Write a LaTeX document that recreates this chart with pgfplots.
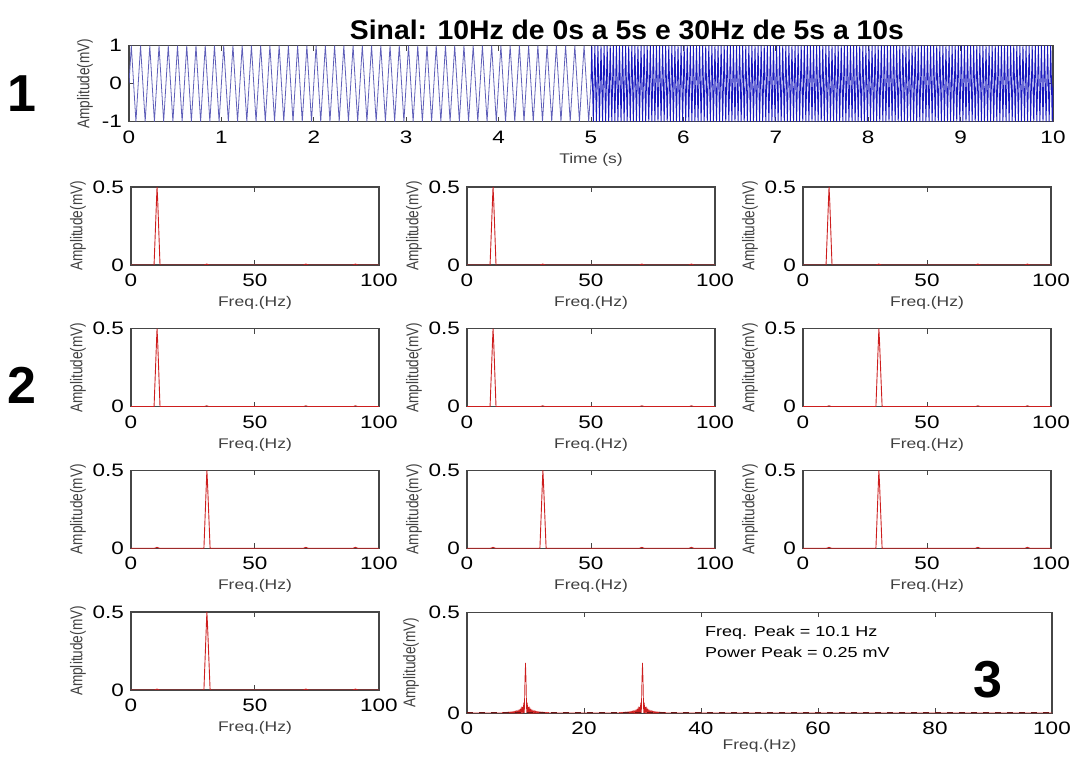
\documentclass[border=0pt]{standalone}
\usepackage{fontspec}
\setmainfont{Liberation Sans}[FakeStretch=1.25]
\newfontfamily\titlefont{Liberation Sans}[FakeStretch=1.05]
\newfontfamily\ylabfont{Liberation Sans}[FakeStretch=0.8]
\newfontfamily\bigfont{Liberation Sans}
\usepackage{pgfplots}
\usepackage{pgfplotstable}
\pgfplotsset{compat=1.18}
\definecolor{sigblue}{RGB}{25,25,190}
\definecolor{sigbluelight}{RGB}{95,95,185}
\definecolor{specred}{RGB}{205,30,30}
\definecolor{darkred}{RGB}{110,20,20}
\definecolor{axgray}{RGB}{70,70,70}

\pgfplotstableread{
f a
0 0
9.3 0
10.3 0.42
10.5 0.5
10.8 0.40
11.7 0
29.5 0
30.5 0.006
31.5 0
69.5 0
70.5 0.006
71.5 0
89.5 0
90.5 0.006
91.5 0
100 0
}\tenhz

\pgfplotstableread{
f a
0 0
9.5 0
10.5 0.006
11.5 0
29.4 0
30.4 0.42
30.6 0.5
30.9 0.40
31.9 0
69.5 0
70.5 0.006
71.5 0
89.5 0
90.5 0.006
91.5 0
100 0
}\thirtyhz

\pgfplotsset{
 mat/.style={scale only axis, anchor=south west,
   axis line style={axgray,line width=0.6pt},
   tick align=inside, major tick length=2.5pt,
   tick style={axgray,line width=0.5pt},
   tick label style={font=\fontsize{9}{10}\selectfont, black},
   xticklabel style={yshift=-1pt},
   /pgf/number format/assume math mode=true,
   xtick pos=both, ytick pos=both,
   xlabel style={font=\fontsize{7}{8}\selectfont, black!75, anchor=center},
   ylabel style={font=\ylabfont\fontsize{8.5}{9}\selectfont, black!75, anchor=center}},
 spec/.style={mat, width=124pt, height=39pt, xmin=0, xmax=100, ymin=0, ymax=0.5,
   xtick={0,50,100}, ytick={0,0.5}, xlabel={Freq.(Hz)}, ylabel={Amplitude(mV)},
   xlabel style={at={(axis description cs:0.5,-0.487)}},
   ylabel style={at={(axis description cs:-0.214,0.5)}}},
 pk/.style={specred, line width=0.45pt},
}

\begin{document}
\begin{tikzpicture}
\path[use as bounding box] (0,0) rectangle (538.5pt,380pt);

% Top signal
\begin{axis}[mat, at={(64.5pt,319.15pt)}, width=462pt, height=38pt,
  xmin=0, xmax=10, ymin=-1, ymax=1, xtick={0,1,...,10}, ytick={-1,0,1},
  xlabel={Time (s)}, ylabel={Amplitude(mV)},
  xlabel style={at={(axis description cs:0.5,-0.5)}},
  ylabel style={at={(axis description cs:-0.0476,0.5)}}]
\addplot[sigbluelight, line width=0.4pt] coordinates {
(0,0)
(0.025,1)(0.075,-1)(0.125,1)(0.175,-1)(0.225,1)(0.275,-1)(0.325,1)(0.375,-1)(0.425,1)(0.475,-1)(0.525,1)(0.575,-1)(0.625,1)(0.675,-1)(0.725,1)(0.775,-1)(0.825,1)(0.875,-1)(0.925,1)(0.975,-1)
(1.025,1)(1.075,-1)(1.125,1)(1.175,-1)(1.225,1)(1.275,-1)(1.325,1)(1.375,-1)(1.425,1)(1.475,-1)(1.525,1)(1.575,-1)(1.625,1)(1.675,-1)(1.725,1)(1.775,-1)(1.825,1)(1.875,-1)(1.925,1)(1.975,-1)
(2.025,1)(2.075,-1)(2.125,1)(2.175,-1)(2.225,1)(2.275,-1)(2.325,1)(2.375,-1)(2.425,1)(2.475,-1)(2.525,1)(2.575,-1)(2.625,1)(2.675,-1)(2.725,1)(2.775,-1)(2.825,1)(2.875,-1)(2.925,1)(2.975,-1)
(3.025,1)(3.075,-1)(3.125,1)(3.175,-1)(3.225,1)(3.275,-1)(3.325,1)(3.375,-1)(3.425,1)(3.475,-1)(3.525,1)(3.575,-1)(3.625,1)(3.675,-1)(3.725,1)(3.775,-1)(3.825,1)(3.875,-1)(3.925,1)(3.975,-1)
(4.025,1)(4.075,-1)(4.125,1)(4.175,-1)(4.225,1)(4.275,-1)(4.325,1)(4.375,-1)(4.425,1)(4.475,-1)(4.525,1)(4.575,-1)(4.625,1)(4.675,-1)(4.725,1)(4.775,-1)(4.825,1)(4.875,-1)(4.925,1)(4.975,-1)
(5,0)
};
\addplot[sigblue, line width=0.45pt] coordinates {
(5,0)
(5.0083,1)(5.025,-1)(5.0417,1)(5.0583,-1)(5.075,1)(5.0917,-1)
(5.1083,1)(5.125,-1)(5.1417,1)(5.1583,-1)(5.175,1)(5.1917,-1)
(5.2083,1)(5.225,-1)(5.2417,1)(5.2583,-1)(5.275,1)(5.2917,-1)
(5.3083,1)(5.325,-1)(5.3417,1)(5.3583,-1)(5.375,1)(5.3917,-1)
(5.4083,1)(5.425,-1)(5.4417,1)(5.4583,-1)(5.475,1)(5.4917,-1)
(5.5083,1)(5.525,-1)(5.5417,1)(5.5583,-1)(5.575,1)(5.5917,-1)
(5.6083,1)(5.625,-1)(5.6417,1)(5.6583,-1)(5.675,1)(5.6917,-1)
(5.7083,1)(5.725,-1)(5.7417,1)(5.7583,-1)(5.775,1)(5.7917,-1)
(5.8083,1)(5.825,-1)(5.8417,1)(5.8583,-1)(5.875,1)(5.8917,-1)
(5.9083,1)(5.925,-1)(5.9417,1)(5.9583,-1)(5.975,1)(5.9917,-1)
(6.0083,1)(6.025,-1)(6.0417,1)(6.0583,-1)(6.075,1)(6.0917,-1)
(6.1083,1)(6.125,-1)(6.1417,1)(6.1583,-1)(6.175,1)(6.1917,-1)
(6.2083,1)(6.225,-1)(6.2417,1)(6.2583,-1)(6.275,1)(6.2917,-1)
(6.3083,1)(6.325,-1)(6.3417,1)(6.3583,-1)(6.375,1)(6.3917,-1)
(6.4083,1)(6.425,-1)(6.4417,1)(6.4583,-1)(6.475,1)(6.4917,-1)
(6.5083,1)(6.525,-1)(6.5417,1)(6.5583,-1)(6.575,1)(6.5917,-1)
(6.6083,1)(6.625,-1)(6.6417,1)(6.6583,-1)(6.675,1)(6.6917,-1)
(6.7083,1)(6.725,-1)(6.7417,1)(6.7583,-1)(6.775,1)(6.7917,-1)
(6.8083,1)(6.825,-1)(6.8417,1)(6.8583,-1)(6.875,1)(6.8917,-1)
(6.9083,1)(6.925,-1)(6.9417,1)(6.9583,-1)(6.975,1)(6.9917,-1)
(7.0083,1)(7.025,-1)(7.0417,1)(7.0583,-1)(7.075,1)(7.0917,-1)
(7.1083,1)(7.125,-1)(7.1417,1)(7.1583,-1)(7.175,1)(7.1917,-1)
(7.2083,1)(7.225,-1)(7.2417,1)(7.2583,-1)(7.275,1)(7.2917,-1)
(7.3083,1)(7.325,-1)(7.3417,1)(7.3583,-1)(7.375,1)(7.3917,-1)
(7.4083,1)(7.425,-1)(7.4417,1)(7.4583,-1)(7.475,1)(7.4917,-1)
(7.5083,1)(7.525,-1)(7.5417,1)(7.5583,-1)(7.575,1)(7.5917,-1)
(7.6083,1)(7.625,-1)(7.6417,1)(7.6583,-1)(7.675,1)(7.6917,-1)
(7.7083,1)(7.725,-1)(7.7417,1)(7.7583,-1)(7.775,1)(7.7917,-1)
(7.8083,1)(7.825,-1)(7.8417,1)(7.8583,-1)(7.875,1)(7.8917,-1)
(7.9083,1)(7.925,-1)(7.9417,1)(7.9583,-1)(7.975,1)(7.9917,-1)
(8.0083,1)(8.025,-1)(8.0417,1)(8.0583,-1)(8.075,1)(8.0917,-1)
(8.1083,1)(8.125,-1)(8.1417,1)(8.1583,-1)(8.175,1)(8.1917,-1)
(8.2083,1)(8.225,-1)(8.2417,1)(8.2583,-1)(8.275,1)(8.2917,-1)
(8.3083,1)(8.325,-1)(8.3417,1)(8.3583,-1)(8.375,1)(8.3917,-1)
(8.4083,1)(8.425,-1)(8.4417,1)(8.4583,-1)(8.475,1)(8.4917,-1)
(8.5083,1)(8.525,-1)(8.5417,1)(8.5583,-1)(8.575,1)(8.5917,-1)
(8.6083,1)(8.625,-1)(8.6417,1)(8.6583,-1)(8.675,1)(8.6917,-1)
(8.7083,1)(8.725,-1)(8.7417,1)(8.7583,-1)(8.775,1)(8.7917,-1)
(8.8083,1)(8.825,-1)(8.8417,1)(8.8583,-1)(8.875,1)(8.8917,-1)
(8.9083,1)(8.925,-1)(8.9417,1)(8.9583,-1)(8.975,1)(8.9917,-1)
(9.0083,1)(9.025,-1)(9.0417,1)(9.0583,-1)(9.075,1)(9.0917,-1)
(9.1083,1)(9.125,-1)(9.1417,1)(9.1583,-1)(9.175,1)(9.1917,-1)
(9.2083,1)(9.225,-1)(9.2417,1)(9.2583,-1)(9.275,1)(9.2917,-1)
(9.3083,1)(9.325,-1)(9.3417,1)(9.3583,-1)(9.375,1)(9.3917,-1)
(9.4083,1)(9.425,-1)(9.4417,1)(9.4583,-1)(9.475,1)(9.4917,-1)
(9.5083,1)(9.525,-1)(9.5417,1)(9.5583,-1)(9.575,1)(9.5917,-1)
(9.6083,1)(9.625,-1)(9.6417,1)(9.6583,-1)(9.675,1)(9.6917,-1)
(9.7083,1)(9.725,-1)(9.7417,1)(9.7583,-1)(9.775,1)(9.7917,-1)
(9.8083,1)(9.825,-1)(9.8417,1)(9.8583,-1)(9.875,1)(9.8917,-1)
(9.9083,1)(9.925,-1)(9.9417,1)(9.9583,-1)(9.975,1)(9.9917,-1)
(10,0)
};
\end{axis}

% Row 1
\begin{axis}[spec, at={(65.5pt,247.5pt)}]
\addplot[pk] table[x=f,y=a]{\tenhz};
\end{axis}
\begin{axis}[spec, at={(233.5pt,247.5pt)}]
\addplot[pk] table[x=f,y=a]{\tenhz};
\end{axis}
\begin{axis}[spec, at={(401.5pt,247.5pt)}]
\addplot[pk] table[x=f,y=a]{\tenhz};
\end{axis}
% Row 2
\begin{axis}[spec, at={(65.5pt,176.65pt)}]
\addplot[pk] table[x=f,y=a]{\tenhz};
\end{axis}
\begin{axis}[spec, at={(233.5pt,176.65pt)}]
\addplot[pk] table[x=f,y=a]{\tenhz};
\end{axis}
\begin{axis}[spec, at={(401.5pt,176.65pt)}]
\addplot[pk] table[x=f,y=a]{\thirtyhz};
\end{axis}
% Row 3
\begin{axis}[spec, at={(65.5pt,105.85pt)}]
\addplot[pk] table[x=f,y=a]{\thirtyhz};
\end{axis}
\begin{axis}[spec, at={(233.5pt,105.85pt)}]
\addplot[pk] table[x=f,y=a]{\thirtyhz};
\end{axis}
\begin{axis}[spec, at={(401.5pt,105.85pt)}]
\addplot[pk] table[x=f,y=a]{\thirtyhz};
\end{axis}
% Row 4
\begin{axis}[spec, at={(65.5pt,35pt)}]
\addplot[pk] table[x=f,y=a]{\thirtyhz};
\end{axis}

% Wide spectrum
\begin{axis}[mat, at={(233.5pt,23.35pt)}, width=292.5pt, height=50.5pt,
  xmin=0, xmax=100, ymin=0, ymax=0.5, xtick={0,20,...,100}, ytick={0,0.5},
  xlabel={Freq.(Hz)}, ylabel={Amplitude(mV)},
  xlabel style={at={(axis description cs:0.5,-0.327)}},
  ylabel style={at={(axis description cs:-0.0957,0.5)}}]
\addplot[specred, line width=0.35pt] coordinates {
(0,0.002)(6,0.002)
(6.1,0.0041)(6.2,0.002)(6.3,0.0043)(6.4,0.002)(6.5,0.0045)(6.6,0.002)(6.7,0.0048)(6.8,0.002)(6.9,0.0051)(7.0,0.002)
(7.1,0.0055)(7.2,0.002)(7.3,0.0059)(7.4,0.002)(7.5,0.0064)(7.6,0.002)(7.7,0.0069)(7.8,0.002)(7.9,0.0076)(8.0,0.002)
(8.1,0.0084)(8.2,0.002)(8.3,0.0094)(8.4,0.002)(8.5,0.0106)(8.6,0.002)(8.7,0.0122)(8.8,0.002)(8.9,0.0145)(9.0,0.002)
(9.1,0.018)(9.2,0.002)(9.3,0.023)(9.4,0.002)(9.5,0.032)(9.6,0.002)(9.7,0.053)(9.8,0.002)(9.9,0.159)(10.0,0.25)
(10.1,0.159)(10.2,0.002)(10.3,0.053)(10.4,0.002)(10.5,0.032)(10.6,0.002)(10.7,0.023)(10.8,0.002)(10.9,0.018)(11.0,0.002)
(11.1,0.0145)(11.2,0.002)(11.3,0.0122)(11.4,0.002)(11.5,0.0106)(11.6,0.002)(11.7,0.0094)(11.8,0.002)(11.9,0.0084)(12.0,0.002)
(12.1,0.0076)(12.2,0.002)(12.3,0.0069)(12.4,0.002)(12.5,0.0064)(12.6,0.002)(12.7,0.0059)(12.8,0.002)(12.9,0.0055)(13.0,0.002)
(13.1,0.0051)(13.2,0.002)(13.3,0.0048)(13.4,0.002)(13.5,0.0045)(13.6,0.002)(13.7,0.0043)(13.8,0.002)(13.9,0.0041)
(14,0.002)(26,0.002)
(26.1,0.0041)(26.2,0.002)(26.3,0.0043)(26.4,0.002)(26.5,0.0045)(26.6,0.002)(26.7,0.0048)(26.8,0.002)(26.9,0.0051)(27.0,0.002)
(27.1,0.0055)(27.2,0.002)(27.3,0.0059)(27.4,0.002)(27.5,0.0064)(27.6,0.002)(27.7,0.0069)(27.8,0.002)(27.9,0.0076)(28.0,0.002)
(28.1,0.0084)(28.2,0.002)(28.3,0.0094)(28.4,0.002)(28.5,0.0106)(28.6,0.002)(28.7,0.0122)(28.8,0.002)(28.9,0.0145)(29.0,0.002)
(29.1,0.018)(29.2,0.002)(29.3,0.023)(29.4,0.002)(29.5,0.032)(29.6,0.002)(29.7,0.053)(29.8,0.002)(29.9,0.159)(30.0,0.25)
(30.1,0.159)(30.2,0.002)(30.3,0.053)(30.4,0.002)(30.5,0.032)(30.6,0.002)(30.7,0.023)(30.8,0.002)(30.9,0.018)(31.0,0.002)
(31.1,0.0145)(31.2,0.002)(31.3,0.0122)(31.4,0.002)(31.5,0.0106)(31.6,0.002)(31.7,0.0094)(31.8,0.002)(31.9,0.0084)(32.0,0.002)
(32.1,0.0076)(32.2,0.002)(32.3,0.0069)(32.4,0.002)(32.5,0.0064)(32.6,0.002)(32.7,0.0059)(32.8,0.002)(32.9,0.0055)(33.0,0.002)
(33.1,0.0051)(33.2,0.002)(33.3,0.0048)(33.4,0.002)(33.5,0.0045)(33.6,0.002)(33.7,0.0043)(33.8,0.002)(33.9,0.0041)
(34,0.002)(100,0.002)
};
\addplot[darkred, dashed, line width=0.4pt] coordinates {(0,0.003)(100,0.003)};
\node[anchor=west, font=\fontsize{7.2}{8.6}\selectfont] at (axis cs:39.5,0.40) {Freq. Peak = 10.1 Hz};
\node[anchor=west, font=\fontsize{7.2}{8.6}\selectfont] at (axis cs:39.5,0.30) {Power Peak = 0.25 mV};
\end{axis}

\node[font=\titlefont\bfseries\fontsize{13.5}{15}\selectfont] at (313.5pt,365pt) {Sinal: 10Hz de 0s a 5s e 30Hz de 5s a 10s};
\node[font=\bigfont\bfseries\fontsize{26}{28}\selectfont] at (11pt,333pt) {1};
\node[font=\bigfont\bfseries\fontsize{26}{28}\selectfont] at (11pt,187.5pt) {2};
\node[font=\bigfont\bfseries\fontsize{26}{28}\selectfont] at (494pt,40pt) {3};
\end{tikzpicture}
\end{document}
